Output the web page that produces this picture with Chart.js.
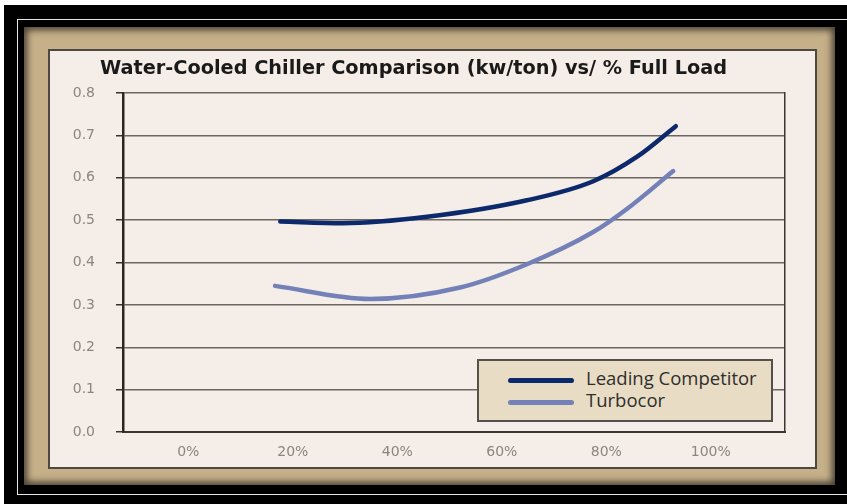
<!DOCTYPE html>
<html>
<head>
<meta charset="utf-8">
<script src="https://cdn.jsdelivr.net/npm/chart.js@4/dist/chart.umd.min.js"></script>
<style>
  html, body { margin: 0; padding: 0; background: #fff; }
  body { position: relative; width: 847px; height: 504px; overflow: hidden; }
  .box { position: absolute; box-sizing: border-box; }
  #outer { left: 4px; top: 5px; width: 843px; height: 499px; background: #000; }
  #rule  { left: 17px; top: 19px; width: 840px; height: 476px; border: 1px solid #e6e6e6; }
  #mat   { left: 24px; top: 27px; width: 811px; height: 458px; background: #c6b08a;
           box-shadow: inset 0 0 7px 3px rgba(0,0,0,0.65); }
  #panel { left: 48px; top: 49px; width: 769px; height: 420px; background: #f5eee8;
           border: 2px solid #4d4842; }
  #wrap  { position: absolute; left: 42px; top: 0; width: 805px; height: 504px; }
  #legend { left: 477px; top: 359px; width: 296px; height: 63px; background: #e8dcc4;
            border: 2px solid #55504a; font-family: 'Open Sans', sans-serif; font-size: 18.5px; color: #2e2e2e; }
  .item { position: absolute; left: 29px; height: 20px; line-height: 20px; white-space: nowrap; }
  .swatch { display: inline-block; width: 66px; height: 5px; border-radius: 3px; vertical-align: middle; margin-right: 12px; }
</style>
</head>
<body>
<div id="outer" class="box"></div>
<div id="rule" class="box"></div>
<div id="mat" class="box"></div>
<div id="panel" class="box"></div>
<div id="wrap"><canvas id="chart"></canvas></div>
<div id="legend" class="box"></div>

<script>
  // ===== Data (x in % full load, y in kw/ton) =====
  const seriesNames = ['Leading Competitor', 'Turbocor'];
  const competitorLoad = [17.6, 29.6, 45.7, 64.8, 77.5, 85.9, 93.3];
  const competitorKw   = [0.497, 0.493, 0.508, 0.547, 0.592, 0.650, 0.722];
  const turbocorLoad   = [16.6, 34.8, 52.0, 64.8, 77.5, 84.0, 92.8];
  const turbocorKw     = [0.345, 0.314, 0.341, 0.396, 0.472, 0.527, 0.616];
  const xTickValues = [0, 20, 40, 60, 80, 100];
  const yTickValues = [0, 0.1, 0.2, 0.3, 0.4, 0.5, 0.6, 0.7, 0.8];

  const toPoints = (xs, ys) => xs.map((x, i) => ({ x: x, y: ys[i] }));

  const colors = ['#0c2a6b', '#7381b8'];

  const chart = new Chart(document.getElementById('chart'), {
    type: 'line',
    data: {
      datasets: [
        { label: seriesNames[0], data: toPoints(competitorLoad, competitorKw) },
        { label: seriesNames[1], data: toPoints(turbocorLoad, turbocorKw) },
      ].map((ds, i) => Object.assign(ds, {
        borderColor: colors[i],
        borderWidth: 4.5,
        borderCapStyle: 'round',
        pointRadius: 0,
        cubicInterpolationMode: 'monotone',
        fill: false,
      })),
    },
    options: {
      responsive: true,
      maintainAspectRatio: false,
      animation: false,
      layout: { padding: { left: 0, right: 62, top: 57, bottom: 32 } },
      plugins: {
        legend: { display: false },
        tooltip: { enabled: false },
        title: {
          display: true,
          text: 'Water-Cooled Chiller Comparison (kw/ton) vs/ % Full Load',
          color: '#1a1a1a',
          font: { family: 'DejaVu Sans', size: 19.3, weight: 'bold', lineHeight: 1.25 },
          padding: { top: 0, bottom: 12 },
        },
      },
      scales: {
        x: {
          type: 'linear',
          min: -12.5,
          max: 114.2,
          afterBuildTicks: s => { s.ticks = xTickValues.map(v => ({ value: v })); },
          afterFit: s => { s.height = 40; },
          ticks: {
            color: '#8a8580',
            font: { family: 'DejaVu Sans', size: 14 },
            padding: 12,
            callback: v => v + '%',
          },
          grid: { display: false, drawTicks: false },
          border: { display: true, color: '#3a3632', width: 2 },
        },
        y: {
          min: 0,
          max: 0.8,
          afterBuildTicks: s => { s.ticks = yTickValues.map(v => ({ value: v })); },
          afterFit: s => { s.width = 81; },
          ticks: {
            color: '#8a8580',
            font: { family: 'DejaVu Sans', size: 14 },
            padding: 21,
            callback: v => v.toFixed(1),
          },
          grid: { color: '#6b6661', lineWidth: 1.5, tickLength: 7, tickColor: '#333' },
          border: { display: true, color: '#2a2622', width: 2.5 },
        },
        yRight: {
          position: 'right',
          min: 0,
          max: 0.8,
          afterFit: s => { s.width = 0; },
          ticks: { display: false },
          grid: { display: false, drawTicks: false },
          border: { display: true, color: '#3a3632', width: 1.5 },
        },
      },
    },
  });

  // ===== HTML legend built from the datasets =====
  const legendEl = document.getElementById('legend');
  chart.data.datasets.forEach((ds, i) => {
    const item = document.createElement('div');
    item.className = 'item';
    item.style.top = (7 + i * 22) + 'px';
    const sw = document.createElement('span');
    sw.className = 'swatch';
    sw.style.background = ds.borderColor;
    item.appendChild(sw);
    item.appendChild(document.createTextNode(ds.label));
    legendEl.appendChild(item);
  });
</script>
</body>
</html>
